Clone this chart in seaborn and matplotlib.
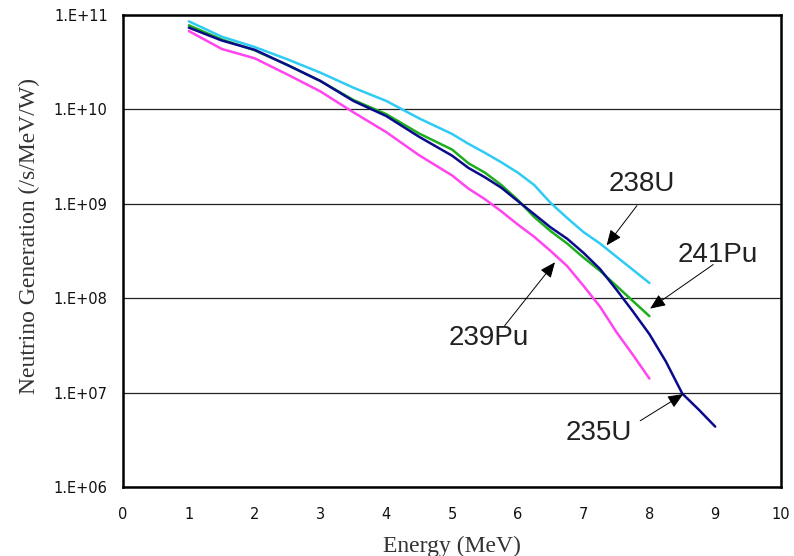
import numpy as np
import pandas as pd
import seaborn as sns
import matplotlib.pyplot as plt
from matplotlib.ticker import NullLocator

# Neutrino generation per isotope (/s/MeV/W)
energy_common = [1, 1.5, 2, 2.5, 3, 3.5, 4, 4.5, 5, 5.25, 5.5, 5.75, 6, 6.25,
                 6.5, 6.75, 7, 7.25, 7.5, 7.75, 8]
energy_u235 = energy_common + [8.25, 8.5, 8.75, 9]

flux_u238 = [8.57e10, 5.89e10, 4.58e10, 3.39e10, 2.45e10, 1.70e10, 1.23e10, 8.04e9,
             5.50e9, 4.32e9, 3.47e9, 2.75e9, 2.14e9, 1.58e9, 1.02e9, 7.08e8,
             5.01e8, 3.80e8, 2.75e8, 2.00e8, 1.45e8]
flux_pu241 = [7.78e10, 5.50e10, 4.23e10, 2.95e10, 2.00e10, 1.26e10, 8.91e9, 5.56e9,
              3.76e9, 2.69e9, 2.14e9, 1.58e9, 1.10e9, 7.24e8, 5.13e8, 3.80e8,
              2.69e8, 1.95e8, 1.35e8, 9.33e7, 6.46e7]
flux_u235 = [7.35e10, 5.37e10, 4.28e10, 2.95e10, 2.00e10, 1.23e10, 8.51e9, 5.13e9,
             3.24e9, 2.40e9, 1.91e9, 1.48e9, 1.07e9, 7.76e8, 5.62e8, 4.27e8,
             3.02e8, 2.04e8, 1.23e8, 7.24e7, 4.17e7, 2.14e7, 9.77e6, 6.61e6, 4.37e6]
flux_pu239 = [6.76e10, 4.37e10, 3.48e10, 2.34e10, 1.55e10, 9.33e9, 5.75e9, 3.27e9,
              2.00e9, 1.45e9, 1.12e9, 8.32e8, 6.03e8, 4.47e8, 3.16e8, 2.19e8,
              1.35e8, 8.13e7, 4.37e7, 2.51e7, 1.41e7]

isotopes = ['238U', '241Pu', '235U', '239Pu']
palette = {'238U': '#2ECBF5', '241Pu': '#1DAE1D', '235U': '#0A0A8C', '239Pu': '#FF44F0'}

y_exponents = [6, 7, 8, 9, 10, 11]
x_ticks = list(range(0, 11))

df = pd.concat([
    pd.DataFrame({'Energy': energy_common, 'Flux': flux_u238, 'Isotope': '238U'}),
    pd.DataFrame({'Energy': energy_common, 'Flux': flux_pu241, 'Isotope': '241Pu'}),
    pd.DataFrame({'Energy': energy_u235, 'Flux': flux_u235, 'Isotope': '235U'}),
    pd.DataFrame({'Energy': energy_common, 'Flux': flux_pu239, 'Isotope': '239Pu'}),
], ignore_index=True)

sns.set_style('white')
plt.rcParams['font.family'] = ['DejaVu Sans']

fig, ax = plt.subplots(figsize=(7.94, 5.56), dpi=100)
fig.subplots_adjust(left=0.155, right=0.9836, bottom=0.124, top=0.973)

ax.set_yscale('log')
sns.lineplot(data=df, x='Energy', y='Flux', hue='Isotope', hue_order=isotopes,
             palette=palette, linewidth=1.8, estimator=None, sort=False,
             legend=False, ax=ax, zorder=3)

ax.set_xlim(0, 10)
ax.set_ylim(1e6, 1e11)
ax.set_xticks(x_ticks)
ax.set_xticklabels([str(t) for t in x_ticks])
ax.set_yticks([10.0 ** e for e in y_exponents])
ax.set_yticklabels(['1.E+%02d' % e for e in y_exponents])
ax.yaxis.set_minor_locator(NullLocator())
ax.grid(axis='y', color='#222222', linewidth=0.9)
ax.grid(axis='x', visible=False)

ax.tick_params(axis='x', direction='in', length=6, width=1, pad=14,
               labelsize=10.5, colors='black', labelcolor='#111111')
ax.tick_params(axis='y', length=0, pad=11, labelsize=10.5, labelcolor='#111111')
for s in ax.spines.values():
    s.set_linewidth(1.8)
    s.set_color('black')

ax.set_xlabel('Energy (MeV)', family='Liberation Serif', fontsize=17,
              color='#333333', labelpad=10)
ax.set_ylabel('Neutrino Generation (/s/MeV/W)', family='Liberation Serif',
              fontsize=17, color='#333333')
ax.yaxis.set_label_coords(-0.126, 0.532)

# Isotope labels with arrows (text position, arrow tail, arrow head)
labels = [
    ('238U', (7.89, 10 ** 9.205), (7.81, 10 ** 8.98), (7.35, 10 ** 8.56)),
    ('241Pu', (9.04, 10 ** 8.46), (8.97, 10 ** 8.357), (8.01, 10 ** 7.89)),
    ('239Pu', (5.56, 10 ** 7.582), (5.80, 10 ** 7.709), (6.565, 10 ** 8.381)),
    ('235U', (7.23, 10 ** 6.575), (7.86, 10 ** 6.702), (8.515, 10 ** 6.985)),
]
for name, txt, tail, head in labels:
    ax.text(txt[0], txt[1], name, ha='center', va='center', fontsize=20,
            family='Liberation Sans', color='#222222', zorder=5)
    ax.annotate('', xy=head, xytext=tail,
                arrowprops=dict(arrowstyle='-|>,head_length=0.47,head_width=0.2',
                                color='black', lw=0.7, mutation_scale=20,
                                shrinkA=0, shrinkB=0),
                zorder=5)

plt.savefig('out.png', dpi=100)
plt.close()
